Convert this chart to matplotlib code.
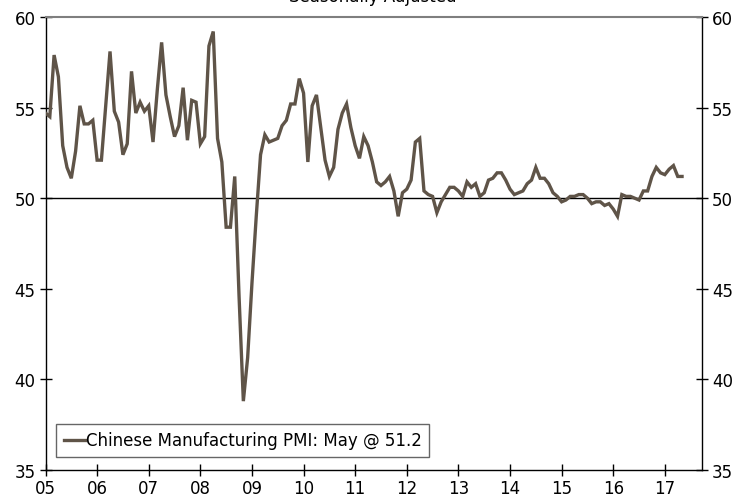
import matplotlib
matplotlib.use("Agg")
import matplotlib.pyplot as plt
import numpy as np

plt.rcParams['font.family'] = ['DejaVu Sans']

start_year = 2005
pmi = [
    # 2005
    54.7, 54.5, 57.9, 56.7, 52.9, 51.7, 51.1, 52.6, 55.1, 54.1, 54.1, 54.3,
    # 2006
    52.1, 52.1, 55.1, 58.1, 54.8, 54.2, 52.4, 53.0, 57.0, 54.7, 55.3, 54.8,
    # 2007
    55.1, 53.1, 56.0, 58.6, 55.7, 54.5, 53.4, 54.0, 56.1, 53.2, 55.4, 55.3,
    # 2008
    53.0, 53.4, 58.4, 59.2, 53.3, 52.0, 48.4, 48.4, 51.2, 44.6, 38.8, 41.2,
    # 2009
    45.3, 49.0, 52.4, 53.5, 53.1, 53.2, 53.3, 54.0, 54.3, 55.2, 55.2, 56.6,
    # 2010
    55.8, 52.0, 55.1, 55.7, 53.9, 52.1, 51.2, 51.7, 53.8, 54.7, 55.2, 53.9,
    # 2011
    52.9, 52.2, 53.4, 52.9, 52.0, 50.9, 50.7, 50.9, 51.2, 50.4, 49.0, 50.3,
    # 2012
    50.5, 51.0, 53.1, 53.3, 50.4, 50.2, 50.1, 49.2, 49.8, 50.2, 50.6, 50.6,
    # 2013
    50.4, 50.1, 50.9, 50.6, 50.8, 50.1, 50.3, 51.0, 51.1, 51.4, 51.4, 51.0,
    # 2014
    50.5, 50.2, 50.3, 50.4, 50.8, 51.0, 51.7, 51.1, 51.1, 50.8, 50.3, 50.1,
    # 2015
    49.8, 49.9, 50.1, 50.1, 50.2, 50.2, 50.0, 49.7, 49.8, 49.8, 49.6, 49.7,
    # 2016
    49.4, 49.0, 50.2, 50.1, 50.1, 50.0, 49.9, 50.4, 50.4, 51.2, 51.7, 51.4,
    # 2017
    51.3, 51.6, 51.8, 51.2, 51.2,
]
year_ticks = list(range(2005, 2018))
year_labels = ["05", "06", "07", "08", "09", "10", "11", "12", "13", "14", "15", "16", "17"]
y_ticks = [35, 40, 45, 50, 55, 60]
legend_label = "Chinese Manufacturing PMI: May @ 51.2"
title = "Seasonally Adjusted"

t = start_year + np.arange(len(pmi)) / 12.0

W, H = 735, 502
fig = plt.figure(figsize=(W / 100, H / 100), dpi=100)
ax = fig.add_axes([45.5 / W, 1 - 471 / H, (702 - 45.5) / W, (471 - 18) / H])

line_color = "#5f5448"
ax.axhline(50, color="black", lw=1.0, zorder=2)
ax.plot(t, pmi, color=line_color, lw=2.4, zorder=3, label=legend_label,
        solid_joinstyle="miter")

ax.set_xlim(2005.0, 2017.72)
ax.set_ylim(35, 60)
ax.set_xticks(year_ticks)
ax.set_xticklabels(year_labels)
ax.set_yticks(y_ticks)

ax.tick_params(axis="both", direction="inout", length=8.5, width=1.0,
               labelsize=12, colors="black")
ax.tick_params(axis="x", pad=2)
ax.tick_params(axis="y", pad=3, left=True, right=True, labelleft=True, labelright=True)

for s in ["left", "right", "bottom"]:
    ax.spines[s].set_color("black")
    ax.spines[s].set_linewidth(1.0)
ax.spines["top"].set_color("#7f7f7f")
ax.spines["top"].set_linewidth(1.5)

leg = ax.legend(loc="lower left", bbox_to_anchor=(10.5 / 656.5, 13 / 453),
                fontsize=12, frameon=True, fancybox=False, handlelength=1.3,
                handletextpad=0.05, borderpad=0.45, borderaxespad=0)
leg.get_frame().set_edgecolor("#404040")
leg.get_frame().set_linewidth(1.0)

fig.text(373 / W, 1 - 6 / H, title, ha="center", va="bottom", fontsize=12)

fig.savefig("out.png", dpi=100)
